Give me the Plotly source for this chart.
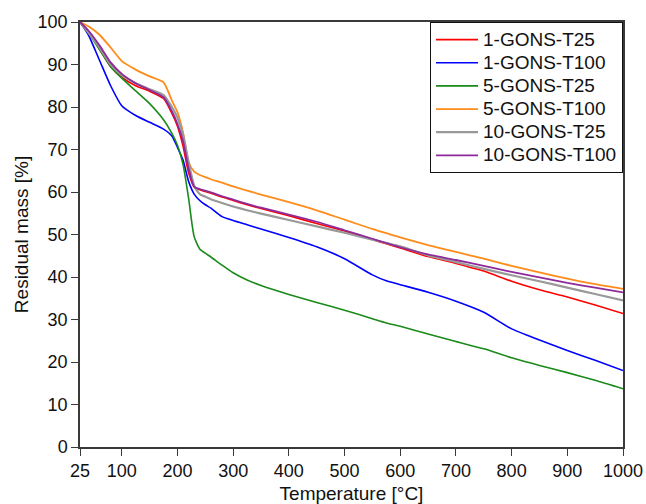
import plotly.graph_objects as go

# Temperature grid (°C) shared by all TGA curves
temperature = [25, 40, 60, 80, 100, 125, 150, 175, 190, 200, 210, 220, 230, 240,
               250, 260, 280, 300, 325, 350, 400, 450, 500, 550, 575, 600, 650, 700,
               750, 800, 850, 900, 950, 1000]

# Residual mass (%) for each sample
gons1_t25 = [100, 97.8, 93.6, 89.5, 87.0, 85.0, 83.7, 82.0, 78.5, 75.5, 70.8, 64.5,
             61.2, 60.5, 60.1, 59.7, 58.8, 58.0, 57.0, 56.1, 54.4, 52.6, 50.8, 48.8,
             47.8, 46.8, 44.8, 43.2, 41.4, 39.0, 37.0, 35.3, 33.4, 31.4]
gons1_t100 = [100, 97.0, 91.0, 85.0, 80.3, 78.0, 76.4, 74.8, 73.2, 70.5, 67.5, 62.5,
              59.5, 58.0, 57.0, 56.2, 54.2, 53.3, 52.3, 51.3, 49.3, 47.1, 44.3, 40.5,
              39.1, 38.2, 36.4, 34.3, 31.7, 27.8, 25.2, 22.7, 20.4, 18.0]
gons5_t25 = [100, 97.5, 93.5, 89.5, 86.8, 83.8, 80.8, 77.0, 73.8, 71.0, 66.5, 58.5,
             49.5, 46.6, 45.6, 44.7, 42.8, 41.0, 39.3, 38.0, 35.9, 34.0, 32.2, 30.2,
             29.2, 28.4, 26.6, 24.8, 23.1, 21.0, 19.2, 17.5, 15.7, 13.7]
gons5_t100 = [100, 99.0, 97.0, 94.0, 90.8, 88.8, 87.2, 85.8, 81.5, 78.8, 74.0, 67.0,
              64.8, 64.0, 63.5, 63.0, 62.2, 61.3, 60.3, 59.4, 57.6, 55.7, 53.5, 51.3,
              50.3, 49.3, 47.5, 45.9, 44.3, 42.6, 41.1, 39.6, 38.3, 37.2]
gons10_t25 = [100, 97.5, 94.0, 90.0, 87.5, 85.6, 84.2, 82.8, 80.0, 77.5, 73.5, 67.0,
              61.5, 59.5, 58.9, 58.3, 57.4, 56.6, 55.7, 54.9, 53.4, 51.9, 50.4, 48.8,
              48.0, 47.2, 45.1, 43.5, 41.9, 40.4, 39.0, 37.5, 36.0, 34.5]
gons10_t100 = [100, 98.0, 94.5, 90.5, 87.8, 85.6, 84.0, 82.3, 79.0, 76.0, 72.0, 65.5,
               61.2, 60.7, 60.3, 59.9, 59.0, 58.2, 57.2, 56.3, 54.7, 53.0, 51.0, 49.0,
               48.0, 47.0, 45.3, 44.0, 42.6, 41.2, 39.9, 38.6, 37.5, 36.4]

series = [
    ("1-GONS-T25", gons1_t25, "#ff0000", 1.6),
    ("1-GONS-T100", gons1_t100, "#0000ff", 1.6),
    ("5-GONS-T25", gons5_t25, "#1a8a1a", 1.6),
    ("5-GONS-T100", gons5_t100, "#ff8c1a", 1.8),
    ("10-GONS-T25", gons10_t25, "#999999", 2.2),
    ("10-GONS-T100", gons10_t100, "#8e2a9a", 1.8),
]

x_ticks = [25, 100, 200, 300, 400, 500, 600, 700, 800, 900, 1000]
y_ticks = list(range(0, 101, 10))

FONT = "Liberation Sans, Arial, sans-serif"

fig = go.Figure()
for name, values, color, width in series:
    # legend rows keep compact spacing while the label glyphs render larger
    label = f"<span style='font-size:19px'>{name}</span>"
    fig.add_trace(go.Scatter(
        x=temperature, y=values, name=label, mode="lines",
        line=dict(color=color, width=width, shape="spline", smoothing=0.6),
    ))

axis_common = dict(
    showgrid=False, zeroline=False, showline=True, mirror=True, automargin=False,
    linecolor="#3a3a3a", linewidth=1.5, ticks="outside", ticklen=7,
    tickwidth=1.2, tickcolor="#3a3a3a",
    tickfont=dict(family=FONT, size=18, color="#111"),
)

fig.update_layout(
    width=646, height=504,
    margin=dict(l=80, r=23, t=22, b=57),
    paper_bgcolor="white", plot_bgcolor="white",
    font=dict(family=FONT, size=18, color="#111"),
    showlegend=True,
    legend=dict(
        x=1, y=1, xanchor="right", yanchor="top",
        bgcolor="white", bordercolor="#111", borderwidth=1,
        font=dict(family=FONT, size=15.5, color="#111"), tracegroupgap=0,
        itemwidth=42,
    ),
    xaxis=dict(
        range=[25, 1000], tickvals=x_ticks, ticktext=[str(v) for v in x_ticks],
        title=dict(text="Temperature [°C]", standoff=10,
                   font=dict(family=FONT, size=19, color="#111")),
        **axis_common,
    ),
    yaxis=dict(
        range=[0, 100], tickvals=y_ticks,
        title=dict(text="Residual mass [%]", standoff=4,
                   font=dict(family=FONT, size=19, color="#111")),
        **axis_common,
    ),
)

fig.write_html("out.html")
